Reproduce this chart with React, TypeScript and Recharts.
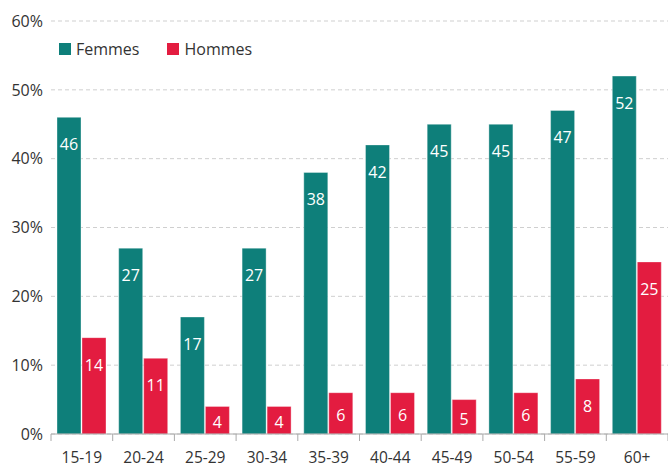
import React from 'react';
import {
  BarChart,
  Bar,
  XAxis,
  YAxis,
  CartesianGrid,
  LabelList
} from 'recharts';

const categories = ['15-19', '20-24', '25-29', '30-34', '35-39', '40-44', '45-49', '50-54', '55-59', '60+'];
const femmes = [46, 27, 17, 27, 38, 42, 45, 45, 47, 52];
const hommes = [14, 11, 4, 4, 6, 6, 5, 6, 8, 25];
const yTicks = [0, 10, 20, 30, 40, 50, 60];

const data = categories.map((cat, i) => ({ cat, femmes: femmes[i], hommes: hommes[i] }));

const TEAL = '#0e7f7a';
const RED = '#e31c40';
const FONT = '"Open Sans", sans-serif';
const BAND = (668 - 51) / categories.length;

const BarLabel = (props: any) => {
  const { x, y, width, height, value } = props;
  const dy = Math.min(27, height / 2 + 2);
  return (
    <text
      x={x + width / 2}
      y={y + dy}
      fill="#ffffff"
      fontSize={16}
      fontFamily={FONT}
      textAnchor="middle"
      dominantBaseline="central"
    >
      {value}
    </text>
  );
};

const XTick = (props: any) => {
  const { x, y, payload, index } = props;
  const left = x - BAND / 2;
  return (
    <g>
      <line x1={left} y1={y} x2={left} y2={y + 7} stroke="#aaa" />
      {index === categories.length - 1 && (
        <line x1={x + BAND / 2} y1={y} x2={x + BAND / 2} y2={y + 7} stroke="#aaa" />
      )}
      <text x={x} y={y + 23} fill="#333" fontSize={15.5} fontFamily={FONT} textAnchor="middle" dominantBaseline="central">
        {payload.value}
      </text>
    </g>
  );
};

const LegendBox = () => (
  <div
    style={{
      position: 'absolute',
      top: 39,
      left: 59,
      display: 'flex',
      fontFamily: FONT,
      fontSize: 16,
      color: '#333',
      lineHeight: '20px'
    }}
  >
    <div style={{ display: 'flex', alignItems: 'center', marginRight: 28 }}>
      <span style={{ width: 12, height: 12, background: TEAL, marginRight: 5, display: 'inline-block' }} />
      Femmes
    </div>
    <div style={{ display: 'flex', alignItems: 'center' }}>
      <span style={{ width: 12, height: 12, background: RED, marginRight: 5, display: 'inline-block' }} />
      Hommes
    </div>
  </div>
);

const App: React.FC = () => {
  return (
    <div style={{ position: 'absolute', left: 0, top: 0, width: 668, height: 468, background: '#fff' }}>
      <BarChart
        width={668}
        height={468}
        data={data}
        margin={{ top: 21, right: 0, left: 0, bottom: 0 }}
        barCategoryGap="10%"
        barGap={1}
      >
        <CartesianGrid vertical={false} stroke="#cfcfcf" strokeDasharray="4 3" />
        <XAxis
          dataKey="cat"
          height={34}
          axisLine={{ stroke: '#aaa' }}
          tickLine={false}
          tickSize={0}
          tickMargin={0}
          interval={0}
          tick={<XTick />}
        />
        <YAxis
          width={51}
          domain={[0, 60]}
          ticks={yTicks}
          axisLine={false}
          tickLine={false}
          tickSize={0}
          tickMargin={8}
          tickFormatter={(v: number) => `${v}%`}
          tick={{ fill: '#333', fontSize: 16, fontFamily: FONT }}
        />
        <Bar dataKey="femmes" name="Femmes" fill={TEAL} stroke="#ffffff" strokeOpacity={0.35} barSize={24} isAnimationActive={false}>
          <LabelList dataKey="femmes" content={<BarLabel />} />
        </Bar>
        <Bar dataKey="hommes" name="Hommes" fill={RED} stroke="#ffffff" strokeOpacity={0.35} barSize={24} isAnimationActive={false}>
          <LabelList dataKey="hommes" content={<BarLabel />} />
        </Bar>
      </BarChart>
      <LegendBox />
    </div>
  );
};

export default App;
